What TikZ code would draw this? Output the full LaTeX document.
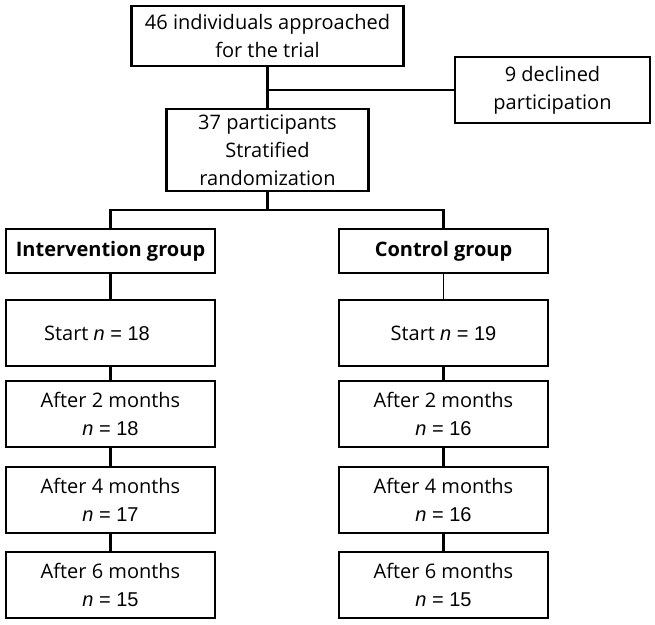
\documentclass[tikz,border=0pt]{standalone}
\usepackage{fontspec}
\setmainfont{Open Sans}
\newfontfamily\arialf{Liberation Sans}
\newcommand{\nval}[1]{{\arialf\fontsize{20bp}{28bp}\selectfont\itshape n\upshape{} = #1}}
\begin{document}
\begin{tikzpicture}[x=1bp,y=-1bp,
  box/.style={draw, line width=2.4bp, rectangle, inner sep=0pt, align=center,
    font=\fontsize{20bp}{28bp}\selectfont},
  grp/.style={box, minimum width=209bp, minimum height=44bp, font=\bfseries\fontsize{20bp}{28bp}\selectfont},
  stage/.style={box, minimum width=209bp, minimum height=66bp},
  link/.style={line width=2.4bp},
  thin/.style={line width=1bp}]
\useasboundingbox (0,0) rectangle (655,625);

\node[box, minimum width=272bp, minimum height=60bp] (top) at (267.5,36) {46 individuals approached\\for the trial};
\node[box, minimum width=195bp, minimum height=66bp] (decl) at (552.5,90) {9 declined\\participation};
\node[box, minimum width=202bp, minimum height=82bp] (mid) at (267.5,150) {37 participants\\Stratified\\randomization};

\node[grp] (intv) at (110.5,251) {Intervention group};
\node[grp] (ctrl) at (443.5,251) {Control group};

\node[stage] (s0L) at (110.5,333) {};
\node (s0Lt) at (97,333) {\fontsize{20bp}{28bp}\selectfont Start \nval{18}};
\node[stage] (s2L) at (110.5,414) {After 2 months\\\nval{18}};
\node[stage] (s4L) at (110.5,500) {After 4 months\\\nval{17}};
\node[stage] (s6L) at (110.5,585) {After 6 months\\\nval{15}};

\node[stage] (s0R) at (443.5,333) {Start \nval{19}};
\node[stage] (s2R) at (443.5,414) {After 2 months\\\nval{16}};
\node[stage] (s4R) at (443.5,500) {After 4 months\\\nval{16}};
\node[stage] (s6R) at (443.5,585) {After 6 months\\\nval{15}};

\coordinate (j1) at (267.5,90);
\coordinate (bL) at (110.5,210);
\coordinate (bR) at (443.5,210);

\draw[link] (top.south) -- (mid.north);
\draw[link] (j1) -- (decl.west);
\draw[link] (mid.south) -- (mid.south |- bL);
\draw[link] (intv.north) -- (bL) -- (bR) -- (ctrl.north);

\draw[link] (intv.south) -- (s0L.north);
\draw[link] (s0L.south) -- (s2L.north);
\draw[link] (s2L.south) -- (s4L.north);
\draw[link] (s4L.south) -- (s6L.north);

\draw[thin] (ctrl.south) -- (s0R.north);
\draw[link] (s0R.south) -- (s2R.north);
\draw[link] (s2R.south) -- (s4R.north);
\draw[link] (s4R.south) -- (s6R.north);
\end{tikzpicture}
\end{document}
